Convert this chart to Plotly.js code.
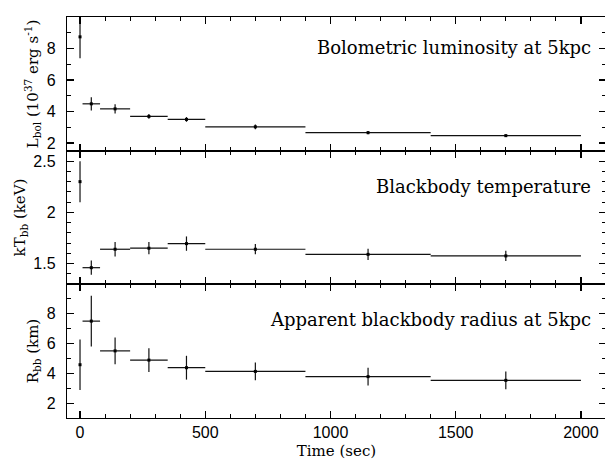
<!DOCTYPE html>
<html>
<head>
<meta charset="utf-8">
<script src="https://cdn.plot.ly/plotly-3.0.1.min.js"></script>
<style>html,body{margin:0;padding:0;overflow:hidden;background:#fff;}</style>
</head>
<body>
<div id="chart" style="width:607px;height:460px;"></div>
<script>
// Time bins (sec)
var times  = [0, 45, 140, 275, 425, 700, 1150, 1700];
var tMinus = [0, 35, 60, 75, 75, 200, 250, 300];
var tPlus  = [0, 35, 60, 75, 75, 200, 250, 300];

// Bolometric luminosity (1e37 erg/s)
var lbol    = [8.74, 4.49, 4.17, 3.69, 3.50, 3.03, 2.66, 2.47];
var lbolErr = [1.35, 0.42, 0.30, 0.15, 0.15, 0.15, 0.10, 0.08];

// Blackbody temperature (keV)
var kT    = [2.30, 1.46, 1.64, 1.65, 1.695, 1.64, 1.59, 1.575];
var kTErr = [0.20, 0.07, 0.07, 0.06, 0.07, 0.05, 0.055, 0.05];

// Apparent blackbody radius (km)
var rbb    = [4.58, 7.51, 5.51, 4.89, 4.38, 4.13, 3.78, 3.53];
var rbbErr = [1.70, 1.70, 0.90, 0.80, 0.80, 0.60, 0.60, 0.60];

var panelLabels = ['Bolometric luminosity at 5kpc', 'Blackbody temperature', 'Apparent blackbody radius at 5kpc'];

function trace(y, err, xa, ya) {
  return {
    x: times, y: y, xaxis: xa, yaxis: ya,
    type: 'scatter', mode: 'markers',
    marker: {symbol: 'square', size: 3, color: '#000'},
    error_x: {type: 'data', array: tPlus, arrayminus: tMinus, symmetric: false, width: 0, thickness: 1.2, color: '#111'},
    error_y: {type: 'data', array: err, width: 0, thickness: 1.2, color: '#111'},
    cliponaxis: true,
    hoverinfo: 'skip'
  };
}

var data = [
  trace(lbol, lbolErr, 'x', 'y'),
  trace(kT, kTErr, 'x2', 'y2'),
  trace(rbb, rbbErr, 'x3', 'y3')
];

var tickFont = {family: 'Liberation Sans, Arial, sans-serif', size: 16, color: '#000'};
var titleFont = {family: 'DejaVu Serif, serif', size: 15, color: '#000'};
var labelFont = {family: 'DejaVu Serif, serif', size: 18, color: '#000'};

function xax(anchor, showLabels) {
  return {
    anchor: anchor, range: [-52, 2100], showgrid: false, zeroline: false,
    showline: true, linecolor: '#000', linewidth: 1.2, mirror: 'allticks',
    ticks: 'inside', ticklen: 7, tickwidth: 1.2, tickcolor: '#000',
    dtick: 500, tick0: 0,
    minor: {dtick: 100, tick0: 0, ticks: 'inside', ticklen: 4, tickwidth: 1, tickcolor: '#000', showgrid: false},
    showticklabels: showLabels, tickfont: tickFont
  };
}
function yax(domain, range, mdtick, title, tickvals) {
  return {
    domain: domain, range: range, showgrid: false, zeroline: false,
    showline: true, linecolor: '#000', linewidth: 1.2, mirror: 'allticks',
    ticks: 'inside', ticklen: 7, tickwidth: 1.2, tickcolor: '#000',
    tickmode: 'array', tickvals: tickvals, ticklabelstandoff: 7,
    minor: {dtick: mdtick, ticks: 'inside', ticklen: 4, tickwidth: 1, tickcolor: '#000', showgrid: false},
    tickfont: tickFont,
    title: {text: title, font: titleFont, standoff: 4}
  };
}

var layout = {
  width: 607, height: 460,
  margin: {l: 67, r: 1, t: 17, b: 42},
  paper_bgcolor: '#fff', plot_bgcolor: 'rgba(0,0,0,0)',
  showlegend: false,
  xaxis: xax('y', false),
  xaxis2: xax('y2', false),
  xaxis3: Object.assign(xax('y3', true), {title: {text: 'Time (sec)', font: titleFont, standoff: 7}}),
  yaxis: yax([0.666, 1], [1.5, 10], 1, 'L<sub>bol</sub> (10<sup>37</sup> erg s<sup>-1</sup>)', [2, 4, 6, 8]),
  yaxis2: yax([0.334, 0.666], [1.3, 2.6], 0.1, 'kT<sub>bb</sub> (keV)', [1.5, 2, 2.5]),
  yaxis3: yax([0, 0.334], [1, 10], 1, 'R<sub>bb</sub> (km)', [2, 4, 6, 8]),
  annotations: [
    {text: panelLabels[0], xref: 'paper', yref: 'paper', x: 0.976, y: 0.925, xanchor: 'right', yanchor: 'middle', showarrow: false, font: labelFont},
    {text: panelLabels[1], xref: 'paper', yref: 'paper', x: 0.976, y: 0.5765, xanchor: 'right', yanchor: 'middle', showarrow: false, font: labelFont},
    {text: panelLabels[2], xref: 'paper', yref: 'paper', x: 0.976, y: 0.2459, xanchor: 'right', yanchor: 'middle', showarrow: false, font: labelFont}
  ]
};

Plotly.newPlot('chart', data, layout, {displayModeBar: false, staticPlot: true});
</script>
</body>
</html>
